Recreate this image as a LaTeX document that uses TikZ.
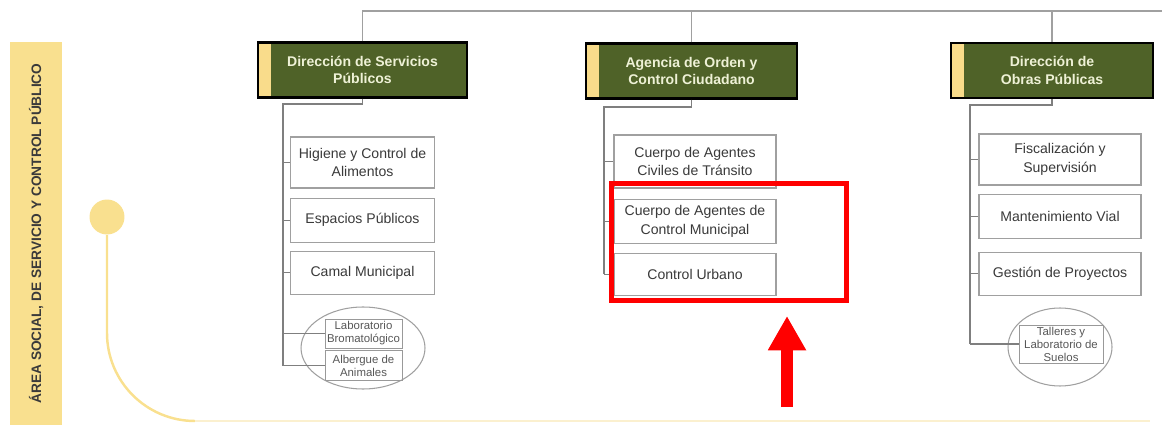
\documentclass[tikz,border=0pt]{standalone}
\usepackage{fontspec}
\setmainfont{Liberation Sans}
\usetikzlibrary{arrows.meta, positioning, shapes.geometric}
\definecolor{orgolive}{HTML}{4F6228}
\definecolor{orgstripe}{HTML}{F9DC8B}
\definecolor{orghead}{HTML}{EEF1D6}
\definecolor{orgbox}{HTML}{A0A0A0}
\definecolor{orgline}{HTML}{7F7F7F}
\definecolor{orgband}{HTML}{F9E08F}
\definecolor{orgtext}{HTML}{3A3A3A}
\definecolor{orgpale}{HTML}{FBF0CF}

\begin{document}
\begin{tikzpicture}[
    x=0.02cm, y=-0.02cm,
    >=Stealth,
    header/.style={draw=black, line width=1.4pt, fill=orgolive, minimum width=#1, minimum height=1.1cm, inner sep=1pt, align=center, text=orghead, font=\fontsize{8}{10}\selectfont\bfseries,
      path picture={\fill[orgstripe] (path picture bounding box.north west) rectangle ([xshift=0.26cm]path picture bounding box.south west);}},
    unit/.style={draw=orgbox, line width=0.7pt, fill=white, minimum width=#1, inner sep=1pt, align=center, text=orgtext, font=\fontsize{8}{10.5}\selectfont},
    subunit/.style={draw=orgline!80, line width=0.5pt, minimum width=#1, inner sep=0.5pt, align=center, text=orgtext!85, font=\fontsize{6.5}{7.4}\selectfont},
    group/.style={draw=orgbox, line width=0.6pt, ellipse},
    conn/.style={draw=orgline, line width=0.6pt},
    bus/.style={draw=orgbox, line width=0.9pt},
    timeline/.style={draw=orgband, line width=1.4pt},
    hilite/.style={draw=red, line width=2.8pt, minimum width=4.7cm, minimum height=2.34cm},
    bigarrow/.style={draw=red, line width=6.8pt, -{Triangle[width=20.4pt, length=19.5pt]}},
]
\useasboundingbox (0,0) rectangle (1162,425);

% Side band
\node[fill=orgband, rotate=90, minimum width=7.66cm, minimum height=1.04cm, text=orgtext, font=\fontsize{7.8}{9}\selectfont\bfseries] (area) at (36,233.5) {ÁREA SOCIAL, DE SERVICIO Y CONTROL PÚBLICO};
\node[circle, fill=orgband, minimum size=0.7cm, inner sep=0pt] (dot) at (107,217) {};
\coordinate (bend) at (107,333);
\coordinate (curve) at (195,421);
\coordinate (lineend) at (1150,421);
\draw[timeline] (dot.south) -- (bend) .. controls +(0,48.6) and +(-48.6,0) .. (curve);
\draw[timeline, draw=orgpale] (curve) -- (lineend);

% Heads
\node[header=4.18cm] (h1) at (362.5,70) {Dirección de Servicios\\Públicos};
\node[header=4.22cm] (h2) at (691.5,71) {Agencia de Orden y\\Control Ciudadano};
\node[header=4.04cm] (h3) at (1052,70.5) {Dirección de\\Obras Públicas};

% Top line
\coordinate (bus) at (1162,11);
\draw[bus] (h1.north) |- (bus);
\draw[bus] (h2.north) -- (h2.north |- bus);
\draw[bus] (h3.north) -- (h3.north |- bus);

% Units, first column
\node[unit=2.88cm, minimum height=1.02cm] (hig) at (362.5,162.5) {Higiene y Control de\\Alimentos};
\node[unit=2.88cm, minimum height=0.88cm, below=0.18cm of hig] (esp) {Espacios Públicos};
\node[unit=2.88cm, minimum height=0.86cm, below=0.16cm of esp] (cam) {Camal Municipal};
\node[group, minimum width=2.48cm, minimum height=1.64cm] (grp1) at (363,348) {};
\node[subunit=1.54cm, minimum height=0.58cm] (lab) at (363.5,333.5) {Laboratorio\\Bromatológico};
\node[subunit=1.54cm, minimum height=0.6cm, below=0.04cm of lab] (alb) {Albergue de\\Animales};

% Units, second column
\node[unit=3.24cm, minimum height=1.06cm] (civ) at (695,161.5) {Cuerpo de Agentes\\Civiles de Tránsito};
\node[unit=3.24cm, minimum height=0.88cm, below=0.2cm of civ] (mun) {Cuerpo de Agentes de\\Control Municipal};
\node[unit=3.24cm, minimum height=0.84cm, below=0.18cm of mun] (urb) {Control Urbano};

% Units, third column
\node[unit=3.24cm, minimum height=1.02cm] (fis) at (1060,159.5) {Fiscalización y\\Supervisión};
\node[unit=3.24cm, minimum height=0.88cm, below=0.16cm of fis] (man) {Mantenimiento Vial};
\node[unit=3.24cm, minimum height=0.86cm, below=0.26cm of man] (ges) {Gestión de Proyectos};
\node[group, minimum width=2.08cm, minimum height=1.56cm] (grp3) at (1060,347) {};
\node[subunit=1.68cm, minimum height=0.76cm] (tal) at (1061,344) {Talleres y\\Laboratorio de\\Suelos};

% Connectors
\coordinate (top1) at (283,104);
\coordinate (top2) at (604,107);
\coordinate (top3) at (970,105);
\draw[conn] (h1.south) |- (top1) -- (top1 |- alb.west);
\draw[conn] (h2.south) |- (top2) -- (top2 |- urb.west);
\draw[conn] (h3.south) |- (top3) -- (top3 |- tal.west);
\foreach \n in {hig, esp, cam, lab, alb}
  \draw[conn] (top1 |- \n.west) -- (\n.west);
\foreach \n in {civ, mun, urb}
  \draw[conn] (top2 |- \n.west) -- (\n.west);
\foreach \n in {fis, man, ges, tal}
  \draw[conn] (top3 |- \n.west) -- (\n.west);

% Highlight
\node[hilite] (focus) at (729,242) {};
\coordinate (arrowfoot) at (787,407);
\coordinate (arrowtip) at (787,316);
\draw[bigarrow] (arrowfoot) -- (arrowtip);

\end{tikzpicture}
\end{document}
